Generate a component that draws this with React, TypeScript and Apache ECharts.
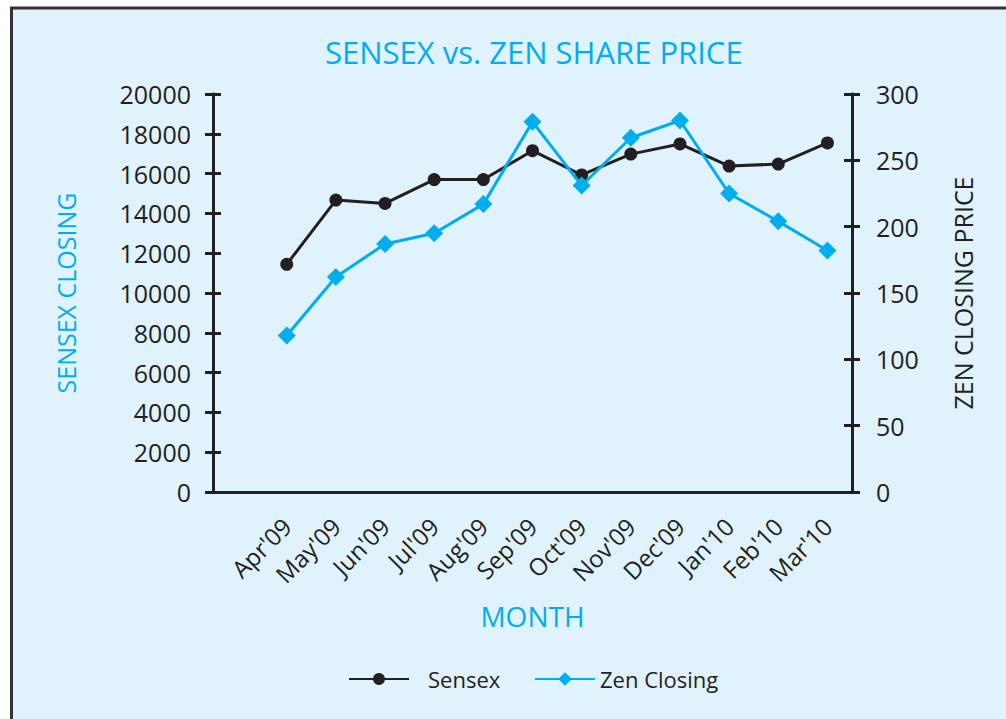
import React, { useEffect, useRef } from "react";
import * as echarts from "echarts";

const months = ["Apr'09", "May'09", "Jun'09", "Jul'09", "Aug'09", "Sep'09", "Oct'09", "Nov'09", "Dec'09", "Jan'10", "Feb'10", "Mar'10"];
const sensex = [11440, 14670, 14500, 15700, 15700, 17150, 15930, 16980, 17490, 16380, 16480, 17540];
const zen = [118, 162, 187, 195, 217, 279, 231, 267, 280, 225, 204, 182];
const leftTicks = { min: 0, max: 20000, interval: 2000 };
const rightTicks = { min: 0, max: 300, interval: 50 };

const CYAN = "#00aeef";
const DARK = "#231f20";
const BG = "#e0f2fc";
const FONT = "Open Sans";

export default function App() {
  const ref = useRef<HTMLDivElement>(null);
  useEffect(() => {
    document.body.style.margin = "0";
    const chart = echarts.init(ref.current!, null, { renderer: "svg" });
    const axisLine = { show: true, lineStyle: { color: DARK, width: 3 } };
    const tickStyle = { color: DARK, width: 3 };
    const plain = (v: number) => String(v);
    const option: any = {
      animation: false,
      backgroundColor: "#ffffff",
      textStyle: { fontFamily: FONT },
      graphic: [
        { type: "rect", shape: { x: 11, y: 7, width: 1000, height: 720 }, style: { fill: BG }, z: -10 },
        { type: "line", shape: { x1: 11.5, y1: 7, x2: 11.5, y2: 719 }, style: { stroke: "#333", lineWidth: 3 }, z: -9 },
        { type: "line", shape: { x1: 10, y1: 8, x2: 1006, y2: 8 }, style: { stroke: "#333", lineWidth: 3 }, z: -9 },
      ],
      title: {
        text: "SENSEX vs. ZEN SHARE PRICE",
        left: 320,
        top: 31,
        textStyle: { color: CYAN, fontSize: 31, fontWeight: "normal", fontFamily: FONT },
      },
      legend: [
        {
          data: [{ name: "Sensex" }],
          left: 343,
          top: 663,
          itemWidth: 60,
          itemHeight: 15,
          textStyle: { color: DARK, fontSize: 22, fontFamily: FONT, padding: [0, 0, 0, 14] },
        },
        {
          data: [{ name: "Zen Closing" }],
          left: 529,
          top: 663,
          itemWidth: 60,
          itemHeight: 17,
          textStyle: { color: DARK, fontSize: 22, fontFamily: FONT },
        },
      ],
      grid: { left: 213, right: 154, top: 94, bottom: 227 },
      xAxis: {
        type: "category",
        data: ["", ...months],
        boundaryGap: true,
        axisLine,
        axisTick: { show: false },
        axisLabel: { interval: 0, rotate: 45, color: DARK, fontSize: 24, fontFamily: FONT, margin: 30 },
        name: "MONTH",
        nameLocation: "middle",
        nameGap: 110,
        nameTextStyle: { color: CYAN, fontSize: 28, fontFamily: FONT },
      },
      yAxis: [
        {
          type: "value",
          position: "left",
          ...leftTicks,
          axisLine,
          axisTick: { show: true, length: 8, lineStyle: tickStyle },
          splitLine: { show: false },
          axisLabel: { color: DARK, fontSize: 25, fontFamily: FONT, margin: 22, formatter: plain },
          name: "SENSEX CLOSING",
          nameLocation: "middle",
          nameGap: 135,
          nameTextStyle: { color: CYAN, fontSize: 25, fontFamily: FONT },
        },
        {
          type: "value",
          position: "right",
          ...rightTicks,
          axisLine,
          axisTick: { show: true, length: 8, lineStyle: tickStyle },
          splitLine: { show: false },
          axisLabel: { color: DARK, fontSize: 25, fontFamily: FONT, margin: 24, formatter: plain },
          name: "ZEN CLOSING PRICE",
          nameLocation: "middle",
          nameGap: 98,
          nameTextStyle: { color: DARK, fontSize: 25, fontFamily: FONT },
        },
        {
          type: "value",
          position: "left",
          ...leftTicks,
          axisLine,
          axisTick: { show: true, inside: true, length: 8, lineStyle: tickStyle },
          splitLine: { show: false },
          axisLabel: { show: false },
        },
        {
          type: "value",
          position: "right",
          ...rightTicks,
          axisLine,
          axisTick: { show: true, inside: true, length: 8, lineStyle: tickStyle },
          splitLine: { show: false },
          axisLabel: { show: false },
        },
      ],
      series: [
        {
          name: "Sensex",
          type: "line",
          yAxisIndex: 0,
          data: [null, ...sensex],
          symbol: "circle",
          symbolSize: 13,
          itemStyle: { color: DARK },
          lineStyle: { color: DARK, width: 3 },
          z: 3,
        },
        {
          name: "Zen Closing",
          type: "line",
          yAxisIndex: 1,
          data: [null, ...zen],
          symbol: "diamond",
          symbolSize: 18,
          itemStyle: { color: CYAN },
          lineStyle: { color: CYAN, width: 3 },
          z: 4,
        },
      ],
    };
    chart.setOption(option);
    return () => chart.dispose();
  }, []);
  return <div ref={ref} style={{ width: 1006, height: 719 }} />;
}
